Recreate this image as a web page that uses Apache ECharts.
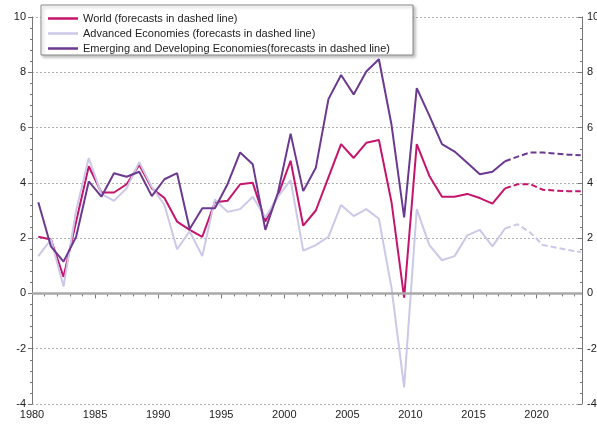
<!DOCTYPE html>
<html>
<head>
<meta charset="utf-8">
<script src="https://cdn.jsdelivr.net/npm/echarts@6/dist/echarts.min.js"></script>
<style>html,body{margin:0;padding:0;background:#fff;}#c{width:597px;height:424px;}</style>
</head>
<body>
<div id="c"></div>
<script>
var years = [1980,1981,1982,1983,1984,1985,1986,1987,1988,1989,1990,1991,1992,1993,1994,1995,1996,1997,1998,1999,2000,2001,2002,2003,2004,2005,2006,2007,2008,2009,2010,2011,2012,2013,2014,2015,2016,2017,2018,2019,2020,2021,2022,2023];
var world = [2.05,1.95,0.6,2.6,4.6,3.65,3.65,3.95,4.65,3.8,3.45,2.6,2.3,2.05,3.3,3.35,3.95,4.0,2.6,3.55,4.8,2.45,3.0,4.2,5.4,4.9,5.45,5.55,3.3,-0.15,5.4,4.25,3.5,3.5,3.6,3.45,3.25,3.8,3.95,3.95,3.75,3.72,3.7,3.7];
var advanced = [1.35,1.95,0.25,3.0,4.9,3.6,3.35,3.8,4.75,3.85,3.2,1.6,2.25,1.35,3.4,2.95,3.05,3.5,2.75,3.5,4.1,1.55,1.75,2.05,3.2,2.8,3.05,2.7,0.2,-3.4,3.05,1.75,1.2,1.35,2.1,2.3,1.7,2.35,2.5,2.2,1.75,1.66,1.57,1.5];
var emerging = [3.3,1.7,1.15,2.05,4.05,3.5,4.35,4.22,4.4,3.52,4.13,4.35,2.33,3.08,3.08,3.95,5.1,4.67,2.3,3.65,5.78,3.7,4.55,7.03,7.9,7.2,8.03,8.47,6.1,2.75,7.43,6.43,5.4,5.13,4.73,4.31,4.4,4.78,4.95,5.1,5.1,5.06,5.02,5.0];
var forecastFrom = 2017;
var names = ['World (forecasts in dashed line)','Advanced Economies (forecasts in dashed line)','Emerging and Developing Economies(forecasts in dashed line)'];
var colors = ['#C4146C','#CBC8E8','#6B3A90'];

function part(vals, dashed) {
  return years.map(function(y, i) {
    var inc = dashed ? (y >= forecastFrom) : (y <= forecastFrom);
    return [y + 0.5, inc ? vals[i] : null];
  });
}
var valsList = [world, advanced, emerging];
var order = [1, 0, 2];
var series = [];
order.forEach(function(k) {
  var s = {
    name: names[k], type: 'line', data: part(valsList[k], false), showSymbol: false, symbol: 'none',
    connectNulls: false, lineStyle: {color: colors[k], width: 2}, itemStyle: {color: colors[k]}, z: 3 + k
  };
  if (k === 1) {
    s.markLine = {silent: true, symbol: 'none', label: {show: false},
      lineStyle: {color: '#a8a8a8', width: 2.5, type: 'solid'}, data: [{yAxis: 0}]};
  }
  series.push(s);
  series.push({
    name: names[k] + ' f', type: 'line', data: part(valsList[k], true), showSymbol: false, symbol: 'none',
    lineStyle: {color: colors[k], width: 2, type: [6, 3]}, itemStyle: {color: colors[k]}, z: 3 + k
  });
});

var font = "'Liberation Sans', Arial, sans-serif";
var chart = echarts.init(document.getElementById('c'));
chart.setOption({
  animation: false,
  backgroundColor: '#fff',
  grid: {left: 32, right: 15, top: 17, bottom: 20, containLabel: false, outerBoundsMode: 'none'},
  legend: {
    data: names, orient: 'vertical', left: 43, top: 8, itemGap: 4, z: 20,
    icon: 'rect', itemWidth: 30, itemHeight: 2.5,
    textStyle: {fontFamily: font, fontSize: 11, color: '#222', lineHeight: 11}
  },
  graphic: [{type: 'rect', z: 15, shape: {x: 41, y: 5, width: 372, height: 50},
    style: {fill: '#fff', stroke: '#8a8a8a', lineWidth: 1, shadowBlur: 3, shadowOffsetX: 2, shadowOffsetY: 2, shadowColor: 'rgba(0,0,0,0.25)'}}],
  xAxis: [{
    type: 'value', min: 1980, max: 2023.6, interval: 5, position: 'bottom',
    axisLine: {show: true, lineStyle: {color: '#777', width: 1}},
    axisTick: {show: true, length: 5, lineStyle: {color: '#777'}},
    axisLabel: {fontFamily: font, fontSize: 11, color: '#222', margin: 5,
      formatter: function(v) { return (Math.abs(v % 5) < 1e-6) ? String(v) : ''; }},
    splitLine: {show: false}
  }, {
    type: 'value', min: 1980, max: 2023.6, interval: 1, position: 'bottom',
    axisLine: {show: false}, axisTick: {show: true, length: 3, lineStyle: {color: '#777'}},
    axisLabel: {show: false}, splitLine: {show: false}
  }],
  yAxis: [{
    type: 'value', min: -4, max: 10, interval: 2, position: 'left',
    axisLine: {show: true, lineStyle: {color: '#777'}},
    axisTick: {show: true, length: 4, lineStyle: {color: '#777'}},
    minorTick: {show: true, splitNumber: 5, length: 2, lineStyle: {color: '#777'}},
    axisLabel: {fontFamily: font, fontSize: 11, color: '#222', margin: 6},
    splitLine: {show: true, lineStyle: {color: '#b0b0b0', type: [2, 2], width: 1}}
  }, {
    type: 'value', min: -4, max: 10, interval: 2, position: 'right',
    axisLine: {show: true, lineStyle: {color: '#777'}},
    axisTick: {show: true, inside: true, length: 4, lineStyle: {color: '#777'}},
    minorTick: {show: true, splitNumber: 5, length: 2, lineStyle: {color: '#777'}},
    axisLabel: {fontFamily: font, fontSize: 11, color: '#222', margin: 5},
    splitLine: {show: false}
  }],
  series: series
});
</script>
</body>
</html>
